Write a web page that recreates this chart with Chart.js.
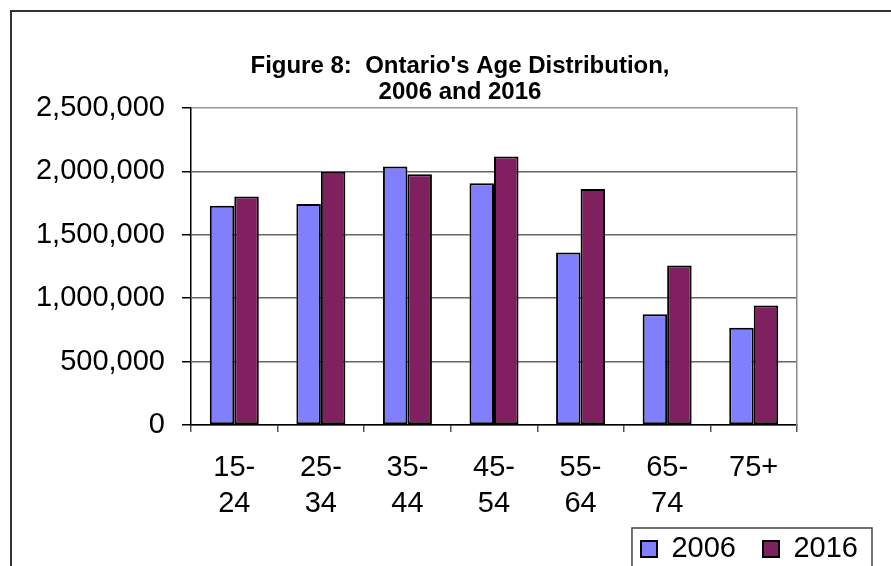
<!DOCTYPE html>
<html>
<head>
<meta charset="utf-8">
<script src="https://cdn.jsdelivr.net/npm/chart.js@4.4.1/dist/chart.umd.min.js"></script>
<style>
  html, body { margin: 0; padding: 0; background: #fff; }
  #wrap { width: 891px; height: 566px; }
</style>
</head>
<body>
<div id="wrap"><canvas id="ageChart" width="891" height="566"></canvas></div>
<script>
const ageGroups = [["15-", "24"], ["25-", "34"], ["35-", "44"], ["45-", "54"], ["55-", "64"], ["65-", "74"], ["75+"]];
const pop2006 = [1728000, 1743000, 2037000, 1906000, 1360000, 872000, 766000];
const pop2016 = [1802000, 1996000, 1977000, 2116000, 1861000, 1257000, 942000];
const yTicks = [0, 500000, 1000000, 1500000, 2000000, 2500000];

const FONT = "'Liberation Sans', Arial, sans-serif";

// frame round the whole chart and round the legend; legend nudged into its corner
const framePlugin = {
  id: "frames",
  afterLayout(chart) {
    const lg = chart.legend;
    if (!lg) return;
    lg.top = 507.5;
    lg.right = 885;
  },
  beforeDraw(chart) {
    const ctx = chart.ctx;
    ctx.save();
    ctx.fillStyle = "#fff";
    ctx.fillRect(0, 0, chart.width, chart.height);
    ctx.strokeStyle = "#333";
    ctx.lineWidth = 2;
    ctx.strokeRect(11, 11, chart.width, chart.height);
    ctx.restore();
  },
  afterDraw(chart) {
    const lg = chart.legend;
    if (!lg || !lg.legendHitBoxes.length) return;
    const boxes = lg.legendHitBoxes;
    const first = boxes[0];
    const last = boxes[boxes.length - 1];
    const ctx = chart.ctx;
    ctx.save();
    ctx.strokeStyle = "#444";
    ctx.lineWidth = 1.5;
    ctx.strokeRect(first.left - 9, first.top - 6.5, last.left + last.width - first.left + 23, chart.height);
    ctx.restore();
  }
};

const ctx = document.getElementById("ageChart").getContext("2d");
new Chart(ctx, {
  type: "bar",
  data: {
    labels: ageGroups,
    datasets: [
      {
        label: "2006",
        data: pop2006,
        backgroundColor: "#8080FF",
        borderColor: "#000",
        borderWidth: 2,
        borderSkipped: false
      },
      {
        label: "2016",
        data: pop2016,
        backgroundColor: "#802060",
        borderColor: "#000",
        borderWidth: 2,
        borderSkipped: false
      }
    ]
  },
  options: {
    responsive: false,
    animation: false,
    layout: { padding: { left: 30, right: 1, top: 0, bottom: 0 } },
    datasets: { bar: { categoryPercentage: 0.566, barPercentage: 1 } },
    scales: {
      x: {
        grid: { offset: true, drawOnChartArea: false, tickLength: 7, tickColor: "#555", lineWidth: 1.5 },
        border: { color: "#000", width: 1.5 },
        ticks: { color: "#000", font: { family: FONT, size: 29, lineHeight: 1.24 }, padding: 18, maxRotation: 0, autoSkip: false },
        afterFit(s) { s.height = 95; }
      },
      y: {
        min: 0,
        max: 2500000,
        afterBuildTicks(s) { s.ticks = yTicks.map(v => ({ value: v })); },
        grid: {
          color: c => (c.tick && c.tick.value === 2500000 ? "#9a9a9a" : "#666"),
          lineWidth: 1.5,
          tickLength: 9,
          tickColor: "#000"
        },
        border: { color: "#000", width: 1.5 },
        ticks: {
          color: "#000",
          font: { family: FONT, size: 29 },
          padding: 17,
          callback: v => v.toLocaleString("en-US")
        },
        afterFit(s) { s.width = 161; }
      },
      y2: {
        position: "right",
        min: 0,
        max: 1,
        grid: { display: false },
        ticks: { display: false },
        border: { color: "#8c8c8c", width: 1.5 },
        afterFit(s) { s.width = 93; }
      }
    },
    plugins: {
      title: {
        display: true,
        text: ["Figure 8:  Ontario's Age Distribution,", "2006 and 2016"],
        color: "#000",
        font: { family: FONT, size: 24, weight: "bold", lineHeight: 1.08 },
        padding: { top: 53, bottom: 3 }
      },
      legend: {
        position: "bottom",
        align: "end",
        maxHeight: 46,
        labels: {
          color: "#000",
          font: { family: FONT, size: 29 },
          boxWidth: 16,
          boxHeight: 16,
          padding: 27
        }
      },
      tooltip: { enabled: false }
    }
  },
  plugins: [framePlugin]
});
</script>
</body>
</html>
